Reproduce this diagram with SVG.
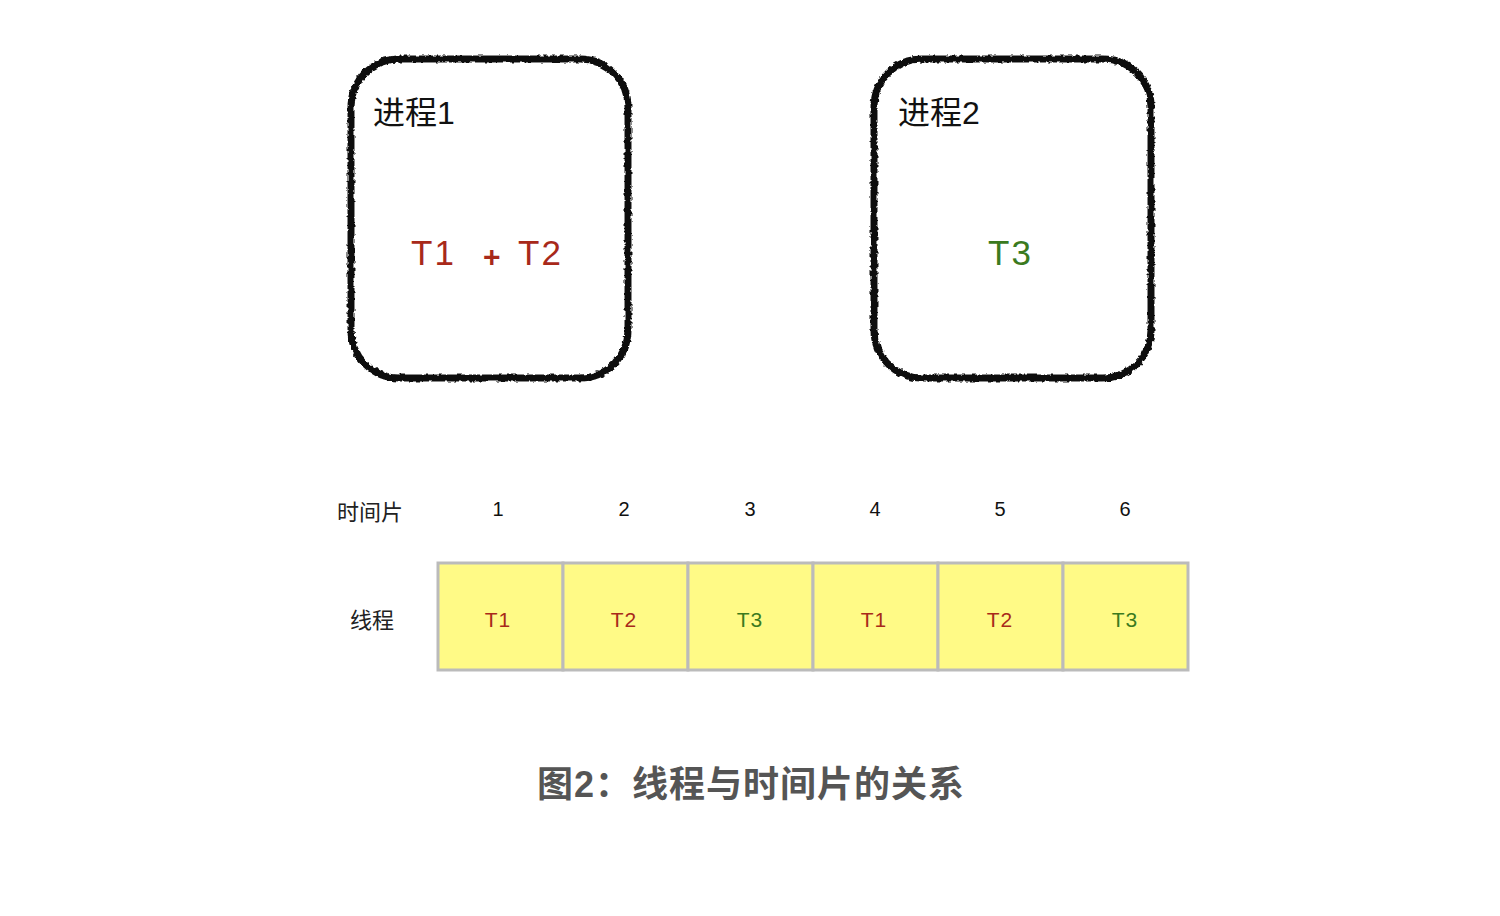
<svg xmlns="http://www.w3.org/2000/svg" width="1500" height="916" viewBox="0 0 1500 916">
<defs>
<filter id="rough" x="-10%" y="-10%" width="120%" height="120%">
<feTurbulence type="fractalNoise" baseFrequency="0.25" numOctaves="2" seed="3" result="n"/>
<feDisplacementMap in="SourceGraphic" in2="n" scale="4" xChannelSelector="R" yChannelSelector="G"/>
</filter>
</defs>
<style>
text{font-family:"Liberation Sans","Noto Sans CJK SC",sans-serif}
.proc{fill:none;stroke:#111;stroke-width:7;filter:url(#rough)}
.title{font-size:32px;fill:#111}
.big{font-size:35px;letter-spacing:2px}
.red{fill:#a8291a}
.green{fill:#3b7a1e}
.cell{fill:#fffa86;stroke:#bbbbbb;stroke-width:3}
.lbl{font-size:22px;fill:#222}
.num{font-size:20px;fill:#111;text-anchor:middle}
.ct{font-size:21px;text-anchor:middle;letter-spacing:1px}
.cap{font-size:36px;font-weight:bold;fill:#555;letter-spacing:1px}
</style>
<rect width="1500" height="916" fill="#fff"/>
<g id="process1">
<rect class="proc" x="351" y="59" width="277" height="319" rx="48"/>
<text class="title" x="373" y="124">进程1</text>
<text class="big red" x="411" y="265">T1</text>
<text class="red" x="483" y="267" font-size="30" font-weight="bold">+</text>
<text class="big red" x="518" y="265">T2</text>
</g>
<g id="process2">
<rect class="proc" x="874" y="59" width="277" height="319" rx="48"/>
<text class="title" x="898" y="124">进程2</text>
<text class="big green" x="988" y="265">T3</text>
</g>
<g id="labels">
<text class="lbl" x="337" y="520">时间片</text>
<text class="lbl" x="350" y="628">线程</text>
<text class="num" x="498" y="516">1</text>
<text class="num" x="624" y="516">2</text>
<text class="num" x="750" y="516">3</text>
<text class="num" x="875" y="516">4</text>
<text class="num" x="1000" y="516">5</text>
<text class="num" x="1125" y="516">6</text>
</g>
<g id="timeline">
<rect class="cell" x="438" y="563" width="125" height="107"/>
<rect class="cell" x="563" y="563" width="125" height="107"/>
<rect class="cell" x="688" y="563" width="125" height="107"/>
<rect class="cell" x="813" y="563" width="125" height="107"/>
<rect class="cell" x="938" y="563" width="125" height="107"/>
<rect class="cell" x="1063" y="563" width="125" height="107"/>
<text class="ct red" x="498" y="627">T1</text>
<text class="ct red" x="624" y="627">T2</text>
<text class="ct green" x="750" y="627">T3</text>
<text class="ct red" x="874" y="627">T1</text>
<text class="ct red" x="1000" y="627">T2</text>
<text class="ct green" x="1125" y="627">T3</text>
</g>
<g id="connectors"></g>
<text class="cap" x="537" y="797">图2：线程与时间片的关系</text>
</svg>
